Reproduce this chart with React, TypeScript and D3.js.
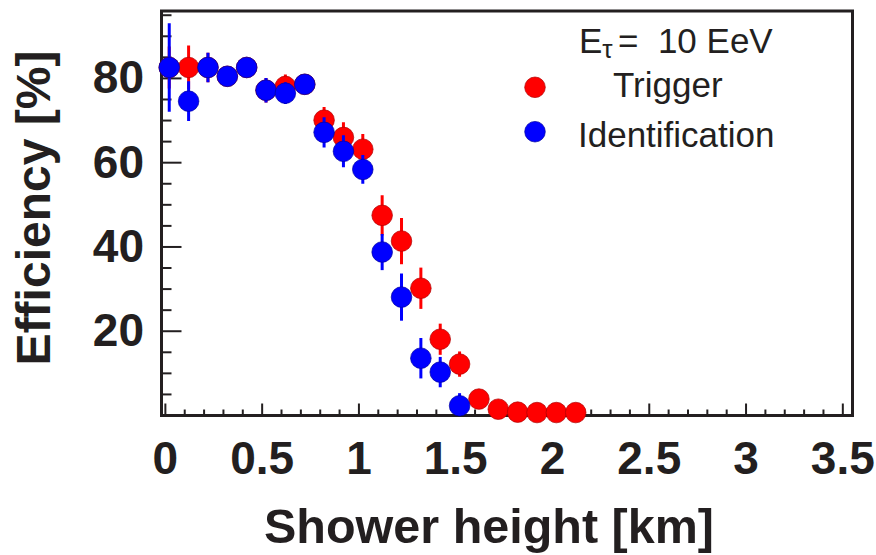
import React from "react";
import * as d3 from "d3";

// ---- data ----
const heights = [0.02, 0.12, 0.22, 0.32, 0.42, 0.52, 0.62, 0.72, 0.82, 0.92, 1.02, 1.12, 1.22, 1.32, 1.42, 1.52, 1.62, 1.72, 1.82, 1.92, 2.02, 2.12];
const trigger = [82.6, 82.6, 82.6, 80.5, 82.6, 77.2, 78.1, 78.6, 70.1, 66.0, 63.2, 47.5, 41.4, 30.2, 18.1, 12.2, 3.9, 1.5, 0.8, 0.7, 0.7, 0.7];
const triggerErr = [5.0, 5.2, 3.5, 2.0, 2.0, 2.9, 2.8, 2.0, 3.1, 3.6, 3.6, 4.8, 5.5, 4.9, 3.7, 3.0, 1.0, 0.5, 0.3, 0.2, 0.2, 0.2];
const ident = [82.6, 74.6, 82.6, 80.5, 82.6, 77.2, 76.5, 78.6, 67.2, 62.7, 58.4, 38.8, 28.1, 13.6, 10.3, 2.3];
const identErr = [10.5, 4.7, 3.5, 2.0, 2.0, 2.9, 2.6, 2.0, 3.6, 3.8, 3.4, 4.3, 5.6, 4.8, 3.6, 3.0];

const xMajor = [0, 0.5, 1, 1.5, 2, 2.5, 3, 3.5];
const xMajorLabels = ["0", "0.5", "1", "1.5", "2", "2.5", "3", "3.5"];
const yMajor = [20, 40, 60, 80];
const yMajorLabels = ["20", "40", "60", "80"];

const W = 876;
const H = 555;
const L = 161.5, R = 852.5, T = 11, B = 415.5;
const FONT = "'Liberation Sans', Arial, Helvetica, sans-serif";
const INK = "#231f20";

export default function App() {
  const x = d3.scaleLinear().domain([-0.02, 3.55]).range([L, R]);
  const y = d3.scaleLinear().domain([0, 96]).range([B, T]);

  const xMinor = d3.range(0, 36).map((i) => i / 10).filter((v) => !xMajor.some((m) => Math.abs(m - v) < 1e-6));
  const yMinor = d3.range(0, 20).map((i) => i * 5).filter((v) => v % 20 !== 0);
  const yMajorAll = [0, ...yMajor];

  const series = [
    { vals: trigger, errs: triggerErr, color: "#ff0000", edge: "#b00000" },
    { vals: ident, errs: identErr, color: "#0000ff", edge: "#0000a0" },
  ];

  return (
    <svg width={W} height={H} style={{ position: "absolute", left: 0, top: 0, background: "#fff" }} fontFamily={FONT}>
      <defs>
        <clipPath id="plotclip">
          <rect x={L} y={T} width={R - L} height={B - T + 0.5} />
        </clipPath>
      </defs>
      {/* ticks */}
      <g stroke={INK} strokeWidth={2}>
        {xMajor.map((v) => (
          <line key={"xM" + v} x1={x(v)} x2={x(v)} y1={B} y2={B - 12} />
        ))}
        {xMinor.map((v) => (
          <line key={"xm" + v} x1={x(v)} x2={x(v)} y1={B} y2={B - 6} />
        ))}
        {yMajorAll.map((v) => (
          <line key={"yM" + v} x1={L} x2={L + 20} y1={y(v)} y2={y(v)} />
        ))}
        {yMinor.map((v) => (
          <line key={"ym" + v} x1={L} x2={L + 10} y1={y(v)} y2={y(v)} />
        ))}
      </g>
      {/* frame */}
      <rect x={L} y={T} width={R - L} height={B - T} fill="none" stroke={INK} strokeWidth={3} />

      {/* tick labels */}
      <g fill={INK} fontWeight="bold" fontSize={46}>
        {xMajor.map((v, i) => (
          <text key={"xl" + v} x={x(v)} y={474} textAnchor="middle">
            {xMajorLabels[i]}
          </text>
        ))}
        {yMajor.map((v, i) => (
          <text key={"yl" + v} x={144} y={y(v) + 15} textAnchor="end">
            {yMajorLabels[i]}
          </text>
        ))}
      </g>

      {/* axis titles */}
      <text x={(263 + 715) / 2} y={543} textAnchor="middle" fontWeight="bold" fontSize={48.5} fill={INK}>
        Shower height [km]
      </text>
      <text transform="rotate(-90)" x={-208} y={50} textAnchor="middle" fontWeight="bold" fontSize={48} fill={INK}>
        Efficiency [%]
      </text>

      {/* data */}
      {series.map((s, si) => (
        <g key={"s" + si}>
          <g clipPath="url(#plotclip)" stroke={s.color} strokeWidth={3}>
            {s.vals.map((v, i) => (
              <line key={"e" + i} x1={x(heights[i])} x2={x(heights[i])} y1={y(v - s.errs[i])} y2={y(v + s.errs[i])} />
            ))}
          </g>
          {s.vals.map((v, i) => (
            <circle key={"c" + i} cx={x(heights[i])} cy={y(v)} r={10.3} fill={s.color} stroke={s.edge} strokeWidth={0.7} />
          ))}
        </g>
      ))}

      {/* legend */}
      <g fill={INK} fontSize={35}>
        <text x={579} y={53} xmlSpace="preserve">
          <tspan>E</tspan>
          <tspan fontSize={26} dy={5}>τ</tspan>
          <tspan dy={-5} x={618}>=  10 EeV</tspan>
        </text>
        <text x={613} y={97}>Trigger</text>
        <text x={578} y={147}>Identification</text>
      </g>
      <circle cx={535} cy={87.3} r={10.3} fill="#ff0000" stroke="#b00000" strokeWidth={0.7} />
      <circle cx={535} cy={131.7} r={10.3} fill="#0000ff" stroke="#0000a0" strokeWidth={0.7} />
    </svg>
  );
}
